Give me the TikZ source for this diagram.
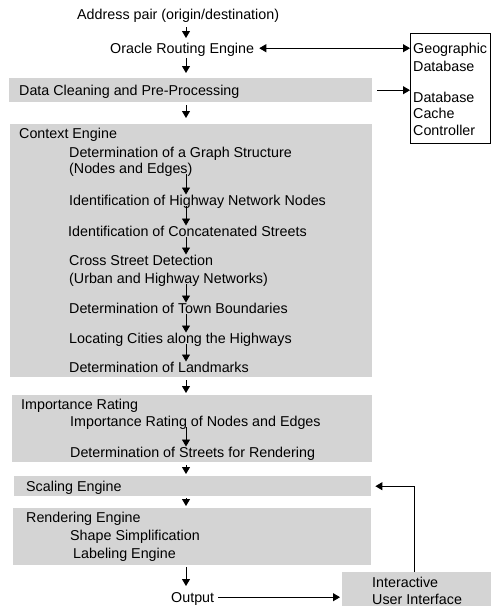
\documentclass[tikz,border=0pt]{standalone}
\usepackage{fontspec}
\setmainfont{Liberation Sans}
\usetikzlibrary{arrows.meta}
\definecolor{boxgray}{RGB}{212,212,212}
\begin{document}
\begin{tikzpicture}[x=1pt,y=-1pt,
  txt/.style={inner sep=0pt, anchor=north west, text height=10pt, text depth=0pt, font=\fontsize{14.3}{16}\selectfont},
  gbox/.style={fill=boxgray, draw=none, inner sep=0pt, anchor=north west},
  arr/.style={-{Triangle[width=8pt,length=7pt]}, line width=0.9pt},
  darr/.style={{Triangle[width=8pt,length=7pt]}-{Triangle[width=8pt,length=7pt]}, line width=0.9pt},
  inarr/.style={arr, shorten <=1pt, shorten >=0.5pt}]
\useasboundingbox (0,0) rectangle (491,606);
% boxes
\node[gbox, minimum width=363pt, minimum height=24pt] (dc) at (9,78) {};
\node[gbox, minimum width=362pt, minimum height=253pt] (ce) at (10,124) {};
\node[gbox, minimum width=360pt, minimum height=67pt] (ir) at (12,395) {};
\node[gbox, minimum width=357pt, minimum height=20pt] (se) at (14,476) {};
\node[gbox, minimum width=358pt, minimum height=57pt] (re) at (13,508) {};
\node[gbox, minimum width=149pt, minimum height=34pt] (ui) at (342,572) {};
\node[draw, line width=0.8pt, inner sep=0pt, anchor=north west, minimum width=80pt, minimum height=110pt] (db) at (410,33) {};
% texts
\node[txt] (addr) at (77,9) {Address pair (origin/destination)};
\node[txt] (oracle) at (110,43) {Oracle Routing Engine};
\node[txt] (geo1) at (413,43) {Geographic};
\node[txt] (geo2) at (413,61) {Database};
\node[txt] (dbc1) at (413,92) {Database};
\node[txt] (dbc2) at (413,108) {Cache};
\node[txt] (dbc3) at (413,125) {Controller};
\node[txt] (dct) at (19,85) {Data Cleaning and Pre-Processing};
\node[txt] (cet) at (19,128) {Context Engine};
\node[txt] (g1a) at (69,147) {Determination of a Graph Structure};
\node[txt] (g1b) at (69,163) {(Nodes and Edges)};
\node[txt] (g2) at (69,195) {Identification of Highway Network Nodes};
\node[txt] (g3) at (68,226) {Identification of Concatenated Streets};
\node[txt] (g4a) at (69,255) {Cross Street Detection};
\node[txt] (g4b) at (69,273) {(Urban and Highway Networks)};
\node[txt] (g5) at (69,303) {Determination of Town Boundaries};
\node[txt] (g6) at (69,333) {Locating Cities along the Highways};
\node[txt] (g7) at (69,362) {Determination of Landmarks};
\node[txt] (irt) at (21,399) {Importance Rating};
\node[txt] (i1) at (70,416) {Importance Rating of Nodes and Edges};
\node[txt] (i2) at (70,447) {Determination of Streets for Rendering};
\node[txt] (set) at (26,481) {Scaling Engine};
\node[txt] (ret) at (26,512) {Rendering Engine};
\node[txt] (r1) at (70,530) {Shape Simplification};
\node[txt] (r2) at (73,548) {Labeling Engine};
\node[txt] (out) at (171,592) {Output};
\node[txt] (ui1) at (372,577) {Interactive};
\node[txt] (ui2) at (372,594) {User Interface};
% helper coordinates
\coordinate (ax) at (186,0);
\coordinate (fb) at (414,0);
% main flow
\draw[arr, shorten <=8pt, shorten >=5pt] (addr.south -| ax) -- (oracle.north -| ax);
\draw[arr, shorten <=5pt, shorten >=5pt] (oracle.south -| ax) -- (dc.north -| ax);
\draw[arr, shorten <=3pt, shorten >=6pt] (dc.south -| ax) -- (ce.north -| ax);
\draw[inarr] (g1b.south -| ax) -- (g2.north -| ax);
\draw[inarr] (g2.south -| ax) -- (g3.north -| ax);
\draw[inarr] (g3.south -| ax) -- (g4a.north -| ax);
\draw[inarr] (g4b.south -| ax) -- (g5.north -| ax);
\draw[inarr] (g5.south -| ax) -- (g6.north -| ax);
\draw[inarr] (g6.south -| ax) -- (g7.north -| ax);
\draw[arr, shorten <=3pt, shorten >=2pt] (ce.south -| ax) -- (ir.north -| ax);
\draw[inarr] (i1.south -| ax) -- (i2.north -| ax);
\draw[arr, shorten <=3pt, shorten >=2pt] (ir.south -| ax) -- (se.north -| ax);
\draw[arr, shorten <=2pt, shorten >=2pt] (se.south -| ax) -- (re.north -| ax);
\draw[arr, shorten <=2pt, shorten >=6pt] (re.south -| ax) -- (out.north -| ax);
\draw[arr, shorten <=4pt, shorten >=2pt] (out.east) -- (out.east -| ui.west);
\draw[arr, shorten >=4pt] (ui.north -| fb) |- (se.east);
% database links
\draw[darr, shorten <=5pt] (oracle.east) -- (oracle.east -| db.west);
\draw[arr, shorten <=5pt] (dc.east) -- (dc.east -| db.west);
\end{tikzpicture}
\end{document}
